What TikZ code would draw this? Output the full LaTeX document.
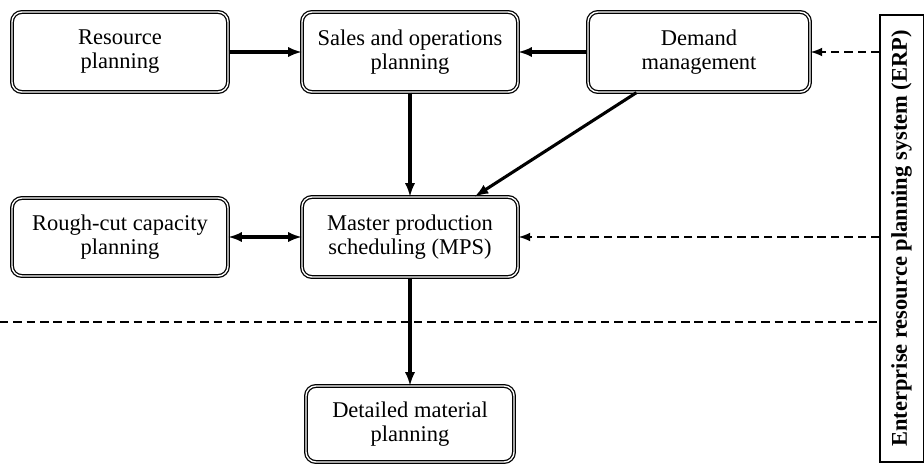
\documentclass[tikz,border=0pt]{standalone}
\usepackage{fontspec}
\setmainfont{Liberation Serif}
\usepackage{graphicx}
\usetikzlibrary{calc}
\usetikzlibrary{arrows}
\tikzset{
	plan/.style={
			draw, line width=0.9pt, double, double distance=1pt, rounded corners=7pt,
			align=center, font=\fontsize{16}{17}\selectfont,
			minimum width=5.4cm, minimum height=2cm, inner sep=2pt
		},
	erpbar/.style={
			draw, line width=1pt, minimum width=1.08cm, minimum height=11.18cm, inner sep=0pt,
			font=\fontsize{16}{17}\selectfont\bfseries
		},
	link/.style={line width=2.2pt, >=latex},
	feed/.style={link, line width=1.8pt, dash pattern=on 6pt off 3.5pt}
}

\begin{document}
\begin{tikzpicture}
	\useasboundingbox (0,0) rectangle (23.1,-11.6);

	\node[plan] (res) at (3.0,-1.3) {Resource\\planning};
	\node[plan] (sop) at (10.25,-1.3) {Sales and operations\\planning};
	\node[plan, minimum width=5.55cm] (dem) at (17.475,-1.3) {Demand\\management};
	\node[plan, minimum height=1.95cm] (rcc) at (3.0,-5.925) {Rough-cut capacity\\planning};
	\node[plan] (mps) at (10.25,-5.925) {Master production\\scheduling (MPS)};
	\node[plan, minimum width=5.2cm, minimum height=1.9cm] (dmp) at (10.25,-10.6) {Detailed material\\planning};
	\node[erpbar] (erp) at (22.54,-5.96) {\rotatebox{90}{Enterprise resource planning system (ERP)}};

	\coordinate (e1) at (erp.west |- dem.east);
	\coordinate (e2) at (erp.west |- mps.east);
	\coordinate (cutl) at (0,-8.05);
	\coordinate (cutr) at (erp.west |- cutl);

	\draw[link, ->] (res) -- (sop);
	\draw[link, ->] (dem) -- (sop);
	\draw[link, ->] (sop) -- (mps);
	\draw[link, ->] (dem.213) -- (mps.32);
	\draw[link, <->] (rcc) -- (mps);
	\draw[link, ->] (mps) -- (dmp);
	\draw[feed, ->] (e1) -- (dem);
	\draw[feed, ->] (e2) -- (mps);
	\draw[feed] (cutl) -- (cutr);
\end{tikzpicture}
\end{document}
